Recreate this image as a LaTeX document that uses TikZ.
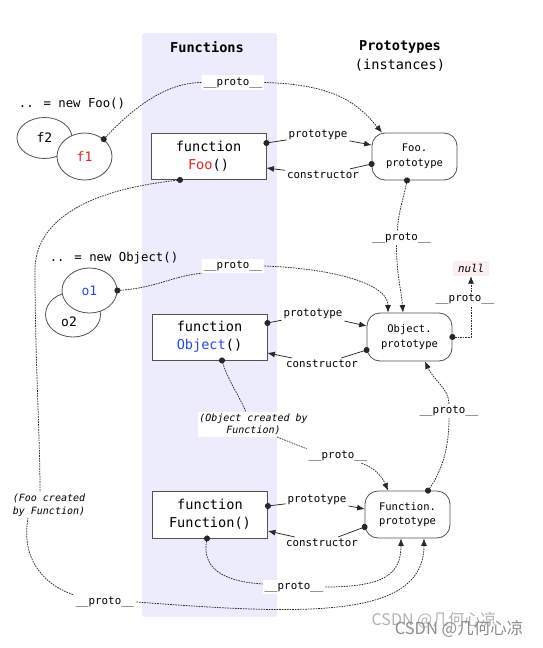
\documentclass[tikz,border=0pt]{standalone}
\usepackage{fontspec}
\setmainfont{DejaVu Sans Mono}
\newfontfamily\cjkfont{Noto Sans CJK SC}
\usetikzlibrary{arrows.meta,shapes.geometric}

\definecolor{bandcol}{RGB}{236,236,252}
\definecolor{foored}{RGB}{232,38,30}
\definecolor{objblue}{RGB}{40,72,232}
\definecolor{nullbg}{RGB}{252,238,238}
\definecolor{edgecol}{RGB}{40,40,40}
\definecolor{boxcol}{RGB}{80,80,80}

\begin{document}
\begin{tikzpicture}[x=1pt,y=1pt]
    \tikzset{
        fnbox/.style={draw=boxcol, line width=0.9pt, fill=white, minimum width=115pt,
            minimum height=46pt, align=center, font=\fontsize{13.6}{18}\selectfont},
        protobox/.style={draw=boxcol, line width=0.8pt, fill=white, rounded corners=13pt,
            minimum width=85pt, minimum height=47pt, align=center,
            font=\fontsize{10.5}{14.5}\selectfont},
        inst/.style={ellipse, draw=boxcol, line width=0.8pt, fill=white, inner sep=0pt,
            minimum width=55pt, minimum height=45pt, font=\fontsize{13}{15}\selectfont},
        lbl/.style={fill=white, inner sep=2pt, font=\fontsize{10.8}{13}\selectfont},
        remark/.style={fill=white, inner sep=1.5pt, align=center,
            font=\fontsize{10}{12.5}\selectfont\itshape},
        link/.style={draw=edgecol, line width=0.75pt, dash pattern=on 1.6pt off 1pt},
        rel/.style={draw=edgecol, line width=0.75pt},
        dotfrom/.style={{Circle[length=6pt,width=6pt]}-, shorten <=-3pt},
        arrowto/.style={-{Latex[length=7.5pt,width=6pt]}},
    }
    \useasboundingbox (0,0) rectangle (543,-648);

    % Columns
    \fill[bandcol, rounded corners=3pt] (142,-33) rectangle (277,-617);
    \node[font=\fontsize{13.6}{16}\selectfont\bfseries] (hfun) at (207,-47) {Functions};
    \node[align=center, font=\fontsize{13.6}{19}\selectfont] (hproto) at (400,-55.5)
        {\textbf{Prototypes}\\(instances)};

    % Instances
    \node[font=\fontsize{12.3}{14}\selectfont] (newfoo) at (72,-104) {.. = new Foo()};
    \node[inst, minimum height=41pt] (f2) at (44.5,-138) {f2};
    \node[inst, minimum height=47pt, text=foored] (f1) at (84.5,-156.5) {f1};
    \node[font=\fontsize{12.3}{14}\selectfont] (newobj) at (114,-258) {.. = new Object()};
    \node[inst, label={[font=\fontsize{13}{15}\selectfont, xshift=-4pt, yshift=-7.5pt]center:o2}]
        (o2) at (73,-314.5) {};
    \node[inst, text=objblue] (o1) at (89.5,-290.5) {o1};

    % Functions
    \node[fnbox] (foo) at (208.5,-156.5) {function\\\textcolor{foored}{Foo}()};
    \node[fnbox] (obj) at (209.5,-337) {function\\\textcolor{objblue}{Object}()};
    \node[fnbox, minimum height=47pt] (fn) at (210,-514.5) {function\\Function()};

    % Prototypes
    \node[protobox] (fooproto) at (414.5,-156.5) {Foo.\\prototype};
    \node[protobox, minimum height=48pt] (objproto) at (409.5,-337) {Object.\\prototype};
    \node[protobox] (fnproto) at (407.5,-514.5) {Function.\\prototype};
    \node[fill=nullbg, inner sep=0pt, minimum width=36pt, minimum height=15pt,
        font=\fontsize{10.8}{13}\selectfont\itshape] (null) at (471,-268.5) {null};

    % Labels
    \node[lbl] (pf1) at (233,-82.5) {\_\_proto\_\_};
    \node[lbl] (lp1) at (318,-135) {prototype};
    \node[lbl] (lc1) at (323,-175) {constructor};
    \node[lbl] (pfp) at (401.5,-238) {\_\_proto\_\_};
    \node[lbl] (po1) at (233,-266) {\_\_proto\_\_};
    \node[lbl] (lp2) at (313,-314) {prototype};
    \node[lbl] (lc2) at (322,-364) {constructor};
    \node[lbl] (pnull) at (465,-299) {\_\_proto\_\_};
    \node[remark] (ocf) at (253.5,-424.5) {(Object created by\\Function)};
    \node[lbl] (pfo) at (449,-411) {\_\_proto\_\_};
    \node[lbl] (pof) at (338,-456) {\_\_proto\_\_};
    \node[lbl] (lp3) at (317,-500) {prototype};
    \node[lbl] (lc3) at (322,-543) {constructor};
    \node[remark, align=left] (fcf) at (49,-505) {(Foo created\\by Function)};
    \node[lbl] (pff) at (294,-587) {\_\_proto\_\_};
    \node[lbl] (pbot) at (105,-602) {\_\_proto\_\_};

    % prototype / constructor
    \draw[rel, dotfrom] ([yshift=13.5pt]foo.east) -- (lp1);
    \draw[rel, arrowto] (lp1) -- ([yshift=11.5pt]fooproto.west);
    \draw[rel, dotfrom] ([yshift=-7.5pt]fooproto.west) -- (lc1);
    \draw[rel, arrowto] (lc1) -- ([yshift=-11.5pt]foo.east);
    \draw[rel, dotfrom] ([yshift=14pt]obj.east) -- (lp2);
    \draw[rel, arrowto] (lp2) -- ([yshift=11pt]objproto.west);
    \draw[rel, dotfrom] ([yshift=-13pt]objproto.west) -- (lc2);
    \draw[rel, arrowto] (lc2) -- ([yshift=-16pt]obj.east);
    \draw[rel, dotfrom] ([yshift=8.5pt]fn.east) -- (lp3);
    \draw[rel, arrowto] (lp3) -- ([yshift=5.5pt]fnproto.west);
    \draw[rel, dotfrom] ([yshift=-12.5pt]fnproto.west) -- (lc3);
    \draw[rel, arrowto] (lc3) -- ([yshift=-16.5pt]fn.east);

    % __proto__ chains
    \draw[link, dotfrom] (f1.42) .. controls +(30,32) and +(-35,0) .. (pf1.west);
    \draw[link, arrowto] (pf1.east) .. controls +(70,-2) and +(-25,30) .. ([xshift=-32.5pt]fooproto.north);
    \draw[link, dotfrom] ([xshift=-7.5pt]fooproto.south) .. controls +(-4,-20) and +(0,15) .. ([xshift=-4pt]pfp.north);
    \draw[link, arrowto] ([xshift=-5pt]pfp.south) .. controls +(0,-30) and +(-2,25) .. ([xshift=-6.5pt]objproto.north);
    \draw[link, dotfrom] (o1.east) .. controls +(40,3) and +(-30,-3) .. (po1.south west);
    \draw[link, arrowto] (po1.east) .. controls +(60,-2) and +(0,31) .. ([xshift=-21.5pt]objproto.north);
    \draw[link, dotfrom] (objproto.east) -| (null.south |- pnull.south);
    \draw[link, arrowto] (null.south |- pnull.north) -- (null.south);
    \draw[link, dotfrom] ([xshift=12.5pt]obj.south) .. controls +(6,-20) and +(-6,15) .. ([xshift=-7.5pt]ocf.north);
    \draw[link] ([xshift=23.5pt]ocf.south) -- (pof.north west);
    \draw[link, arrowto] ([xshift=-8pt]pof.south east) .. controls +(15,-5) and +(-5,12) .. ([xshift=-19.5pt]fnproto.north);
    \draw[link, dotfrom] ([xshift=20.5pt]fnproto.north) .. controls +(14,20) and +(0,-30) .. (pfo.south);
    \draw[link, arrowto] (pfo.north) .. controls +(0,15) and +(8,-18) .. ([xshift=15.5pt]objproto.south);
    \draw[link, dotfrom] ([xshift=-3pt]fn.south) .. controls +(-6,-35) and +(-30,2) .. ([yshift=3pt]pff.west);
    \draw[link, arrowto] (pff.east) .. controls +(60,0) and +(0,-35) .. ([xshift=-6.5pt]fnproto.south);
    \draw[link, dotfrom] ([xshift=-28.5pt]foo.south) .. controls +(-110,-12) and +(0,40) .. (35,-270)
        .. controls +(0,-90) and +(0,60) .. ([xshift=-9pt]fcf.north);
    \draw[link] ([xshift=-21pt]fcf.south) .. controls +(-8,-45) and +(-25,8) .. (pbot.north west);
    \draw[link, arrowto] (pbot.east) .. controls +(160,-12) and +(0,-83) .. ([xshift=16.5pt]fnproto.south);

    % Watermark
    \node[text=black!30, font=\cjkfont\fontsize{16}{18}\selectfont] (wm1) at (434,-620) {CSDN @几何心凉};
    \node[text=black!45, font=\cjkfont\fontsize{16.5}{18}\selectfont] (wm2) at (459,-629) {CSDN @几何心凉};
\end{tikzpicture}
\end{document}
